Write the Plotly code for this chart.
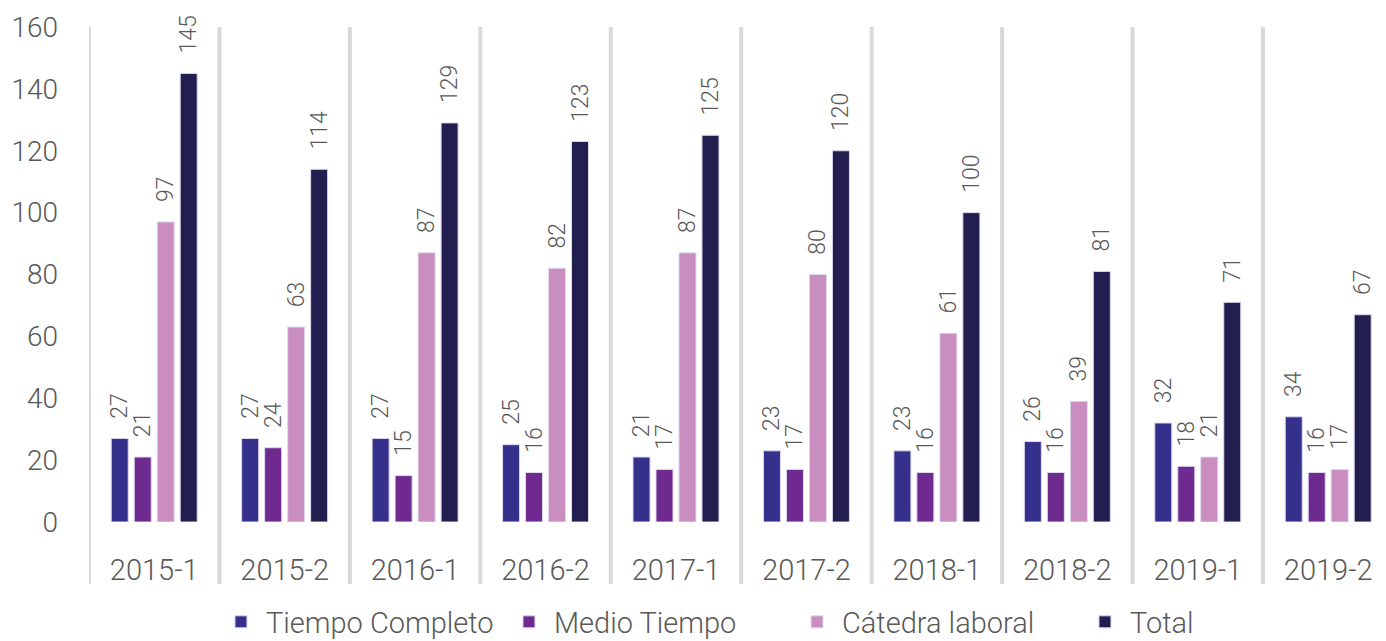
import plotly.graph_objects as go

categories = ["2015-1", "2015-2", "2016-1", "2016-2", "2017-1", "2017-2", "2018-1", "2018-2", "2019-1", "2019-2"]
tiempo_completo = [27, 27, 27, 25, 21, 23, 23, 26, 32, 34]
medio_tiempo = [21, 24, 15, 16, 17, 17, 16, 16, 18, 16]
catedra_laboral = [97, 63, 87, 82, 87, 80, 61, 39, 21, 17]
total = [145, 114, 129, 123, 125, 120, 100, 81, 71, 67]
y_ticks = [0, 20, 40, 60, 80, 100, 120, 140, 160]

series = [
    ("Tiempo Completo", tiempo_completo, "#35308C"),
    ("Medio Tiempo", medio_tiempo, "#6E2A8F"),
    ("Cátedra laboral", catedra_laboral, "#C98EBF"),
    ("Total", total, "#221F50"),
]

FONT = "Roboto"
GREY = "#595959"
xs = list(range(len(categories)))

fig = go.Figure()
for name, vals, color in series:
    fig.add_trace(go.Bar(
        x=xs, y=vals, name=name,
        marker=dict(color=color, line=dict(color="#dcd8ee", width=1)),
        text=vals,
        texttemplate="\u00a0\u00a0\u00a0%{text}",
        textposition="outside",
        textangle=-90,
        constraintext="none",
        cliponaxis=False,
        textfont=dict(family=FONT, size=23, color=GREY, weight=300),
    ))

shapes = []
for i in range(len(categories) + 1):
    shapes.append(dict(type="line", xref="x", yref="paper",
                       x0=i - 0.5, x1=i - 0.5, y0=-0.125, y1=1.0,
                       line=dict(color="#d9d9d9", width=4), layer="below"))

# page body has an 8px margin, so the figure is 8px smaller than the window
fig.update_layout(
    width=1378, height=633,
    margin=dict(l=81, r=0, t=19, b=119, autoexpand=False),
    paper_bgcolor="white", plot_bgcolor="white",
    barmode="group", bargap=0.295, bargroupgap=0.26,
    font=dict(family=FONT, color=GREY, weight=300),
    shapes=shapes,
    showlegend=True,
    legend=dict(orientation="h", x=0.542, xanchor="center", y=-0.202, yanchor="middle",
                font=dict(family=FONT, size=29, color=GREY, weight=300), itemwidth=40,
                entrywidth=233, entrywidthmode="pixels",
                traceorder="normal"),
    xaxis=dict(range=[-0.5, 9.443], tickmode="array", tickvals=xs, ticktext=categories,
               showgrid=False, zeroline=False, showline=False, ticks="",
               automargin=False, ticklabelstandoff=28,
               tickfont=dict(family=FONT, size=29, color=GREY, weight=300)),
    yaxis=dict(range=[0, 160], tickmode="array", tickvals=y_ticks,
               showgrid=False, zeroline=False, showline=False, ticks="",
               automargin=False, ticklabelstandoff=30,
               tickfont=dict(family=FONT, size=28, color=GREY, weight=300)),
)

fig.write_html("out.html")
